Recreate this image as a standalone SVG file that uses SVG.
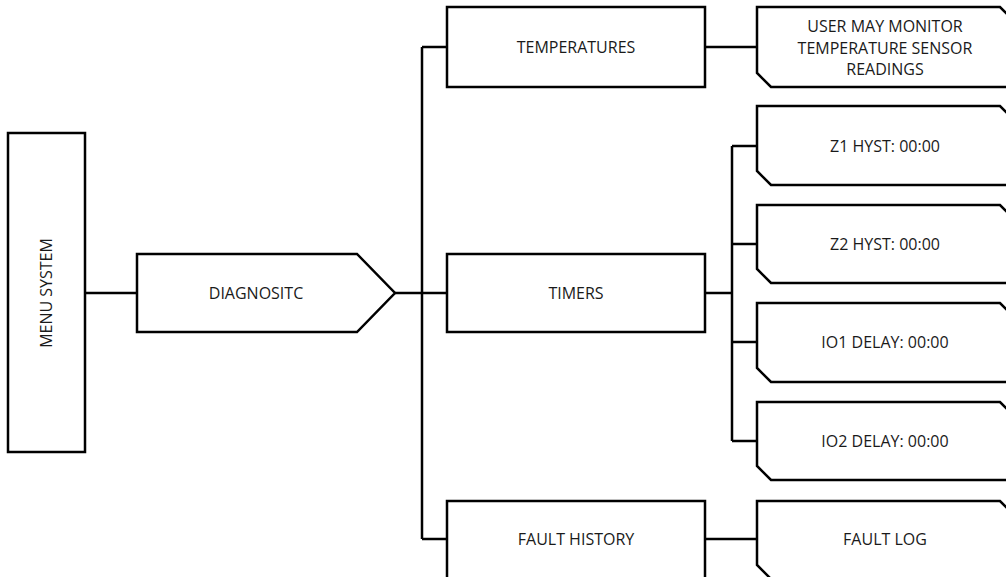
<svg xmlns="http://www.w3.org/2000/svg" width="1006" height="577" viewBox="0 0 1006 577">
<style>
.s{fill:#fff;stroke:#000;stroke-width:2.5;stroke-linejoin:miter}
.c{fill:none;stroke:#000;stroke-width:2.5}
.t{font-family:"Open Sans","Liberation Sans",sans-serif;font-size:16px;fill:#1a1a1a;text-anchor:middle}
</style>
<rect width="1006" height="577" fill="#fff"/>
<g id="connectors">
<path class="c" d="M85,293H137M395,293H447M422,47V539M422,47H447M422,539H447M705,47H757M705,293H732M732,146V441M732,146H757M732,244H757M732,342H757M732,441H757M705,539H757"/>
</g>
<g id="menu-system">
<rect class="s" x="8" y="133" width="77" height="319"/>
<text class="t" transform="translate(52,293) rotate(-90)">MENU SYSTEM</text>
</g>
<g id="diagnostic">
<polygon class="s" points="137,254 357,254 395,293 357,332 137,332"/>
<text class="t" x="256" y="299">DIAGNOSITC</text>
</g>
<g id="temperatures">
<rect class="s" x="447" y="7" width="258" height="80"/>
<text class="t" x="576" y="53">TEMPERATURES</text>
</g>
<g id="timers">
<rect class="s" x="447" y="254" width="258" height="78"/>
<text class="t" x="576" y="299">TIMERS</text>
</g>
<g id="fault-history">
<rect class="s" x="447" y="501" width="258" height="82"/>
<text class="t" x="576" y="545">FAULT HISTORY</text>
</g>
<g id="temp-readings">
<polygon class="s" points="757,7 1000,7 1013,20 1013,87 771,87 757,73"/>
<text class="t" x="885" y="32">USER MAY MONITOR</text>
<text class="t" x="885" y="53.5">TEMPERATURE SENSOR</text>
<text class="t" x="885" y="75">READINGS</text>
</g>
<g id="z1-hyst">
<polygon class="s" points="757,106 1000,106 1013,119 1013,185 771,185 757,171"/>
<text class="t" x="885" y="152">Z1 HYST: 00:00</text>
</g>
<g id="z2-hyst">
<polygon class="s" points="757,205 1000,205 1013,218 1013,283 771,283 757,269"/>
<text class="t" x="885" y="250">Z2 HYST: 00:00</text>
</g>
<g id="io1-delay">
<polygon class="s" points="757,303 1000,303 1013,316 1013,382 771,382 757,368"/>
<text class="t" x="885" y="348">IO1 DELAY: 00:00</text>
</g>
<g id="io2-delay">
<polygon class="s" points="757,402 1000,402 1013,415 1013,480 771,480 757,466"/>
<text class="t" x="885" y="447">IO2 DELAY: 00:00</text>
</g>
<g id="fault-log">
<polygon class="s" points="757,501 1000,501 1013,514 1013,579 771,579 757,565"/>
<text class="t" x="885" y="545">FAULT LOG</text>
</g>
</svg>
